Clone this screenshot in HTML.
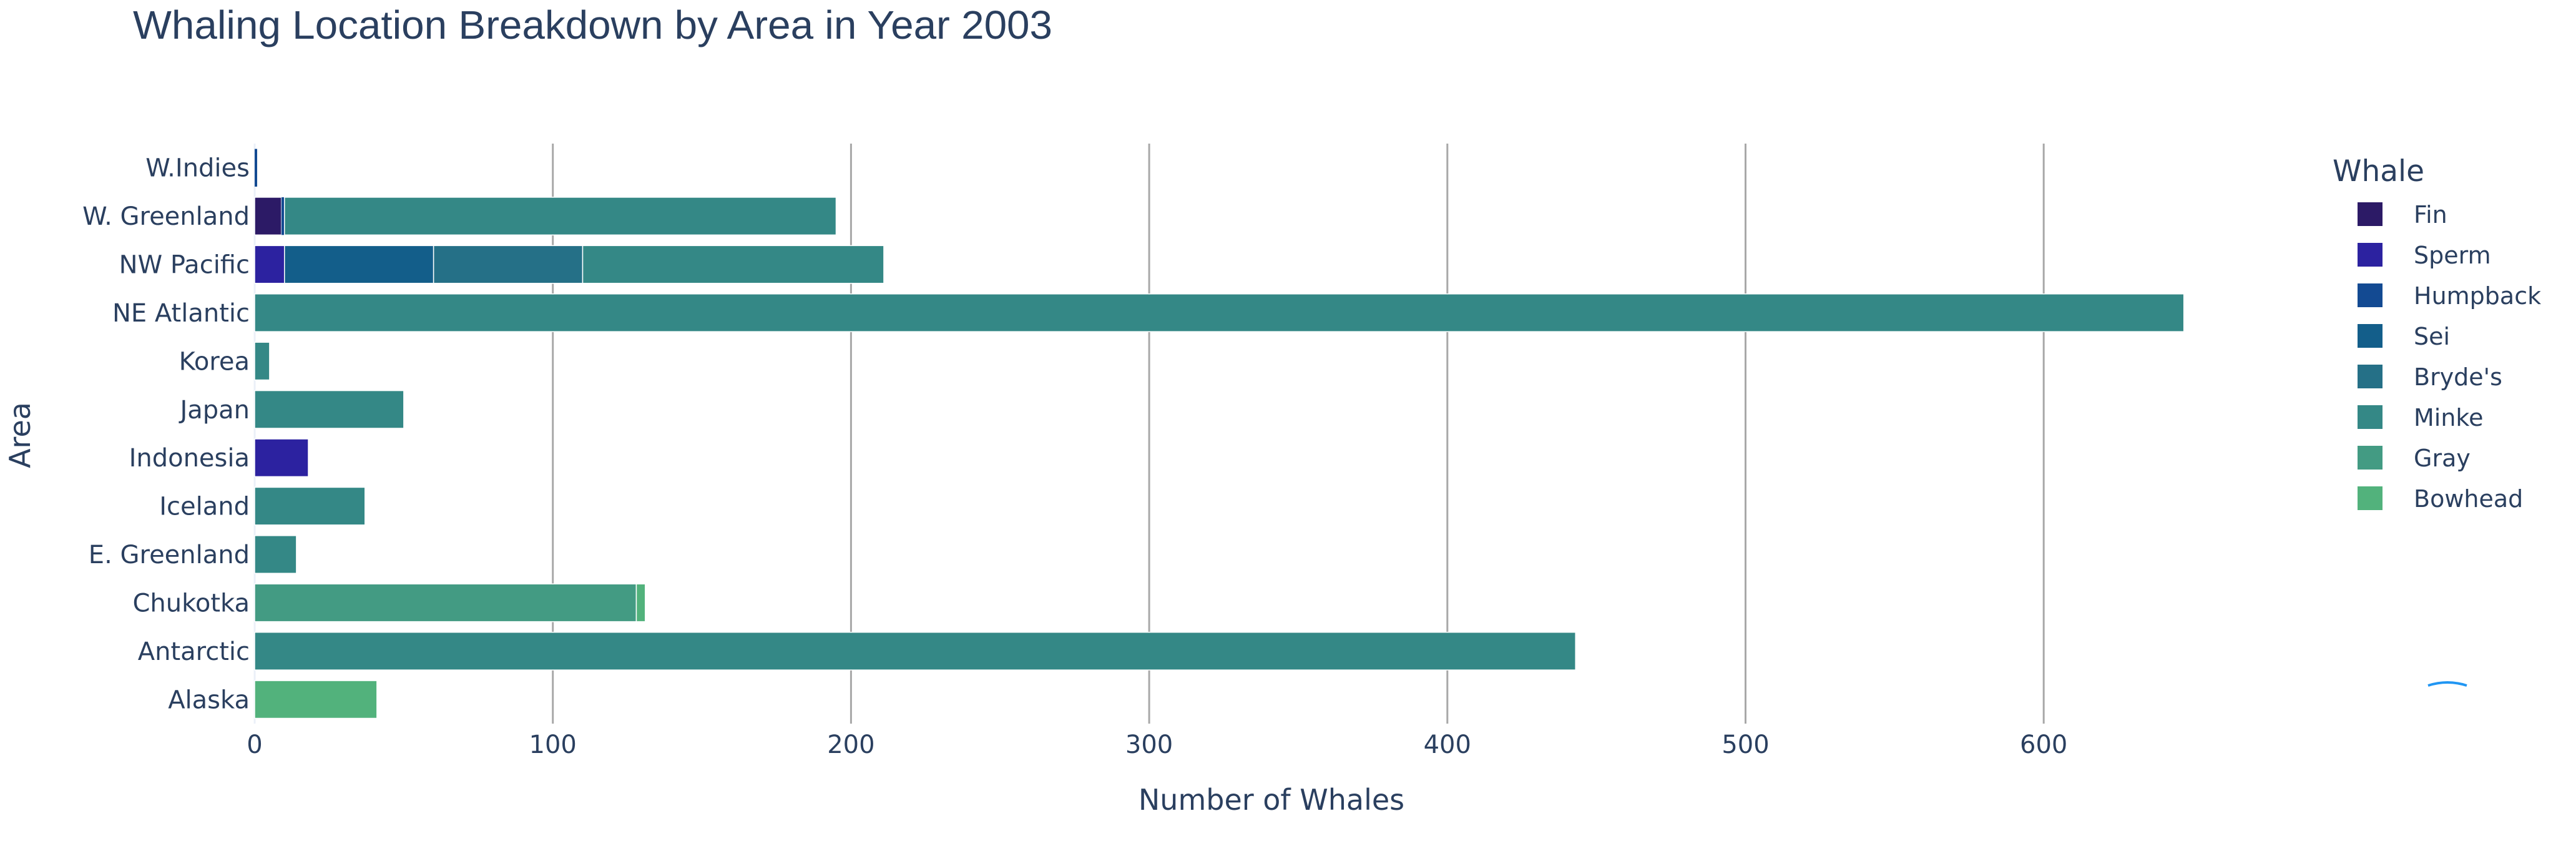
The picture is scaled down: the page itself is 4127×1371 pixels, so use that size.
<!DOCTYPE html>
<html><head><meta charset="utf-8">
<style>
html,body{margin:0;padding:0;background:#fff;}
svg{display:block;}
text{font-family:"DejaVu Sans","Liberation Sans",sans-serif;fill:#2a3f5f;}
</style></head>
<body>
<svg id="chart" width="4127" height="1371" viewBox="0 0 4127 1371" xmlns="http://www.w3.org/2000/svg">
<text x="213" y="62" font-size="64" textLength="1473" lengthAdjust="spacingAndGlyphs" style="font-family:'Liberation Sans',sans-serif">Whaling Location Breakdown by Area in Year 2003</text>
<g id="grid"></g>
<g id="bars"></g>
<g id="yticks"></g>
<g id="xticks"></g>
<text x="2037" y="1297" font-size="46" text-anchor="middle">Number of Whales</text>
<text x="0" y="0" font-size="46" text-anchor="middle" transform="translate(48,697) rotate(-90)">Area</text>
<g id="legend">
<text x="3737" y="290" font-size="47">Whale</text>
</g>
<path d="M3890 1098 Q3921 1088 3952 1098" stroke="#2196f3" stroke-width="4" fill="none"/>
</svg>
<script>
const areas = ["W.Indies","W. Greenland","NW Pacific","NE Atlantic","Korea","Japan","Indonesia","Iceland","E. Greenland","Chukotka","Antarctic","Alaska"];
const species = ["Fin","Sperm","Humpback","Sei","Bryde's","Minke","Gray","Bowhead"];
const colors = ["#2c1a66","#2c22a0","#134a92","#135e8a","#257087","#348886","#439b83","#52b27c"];
const finVals      = [0,9,0,0,0,0,0,0,0,0,0,0];
const spermVals    = [0,0,10,0,0,0,18,0,0,0,0,0];
const humpbackVals = [0.5,1,0,0,0,0,0,0,0,0,0,0];
const seiVals      = [0,0,50,0,0,0,0,0,0,0,0,0];
const brydesVals   = [0,0,50,0,0,0,0,0,0,0,0,0];
const minkeVals    = [0,185,101,647,5,50,0,37,14,0,443,0];
const grayVals     = [0,0,0,0,0,0,0,0,0,128,0,0];
const bowheadVals  = [0,0,0,0,0,0,0,0,0,3,0,41];
const xTicks = [0,100,200,300,400,500,600];

const series = [finVals,spermVals,humpbackVals,seiVals,brydesVals,minkeVals,grayVals,bowheadVals];
const NS="http://www.w3.org/2000/svg";
const X0=408, XS=4.777, TOP=230, BOT=1159;
const band=(BOT-TOP)/areas.length;
function xs(v){return X0+v*XS;}
function yc(i){return TOP+band*(i+0.5);}
function mk(tag,attrs,parent){const e=document.createElementNS(NS,tag);for(const k in attrs)e.setAttribute(k,attrs[k]);parent.appendChild(e);return e;}

const grid=document.getElementById('grid');
xTicks.forEach(t=>{
  if(t===0) return;
  const l=mk('line',{x1:xs(t),x2:xs(t),y1:TOP,y2:BOT,stroke:'#a8a8a8','stroke-width':3},grid);
  
  
});
mk('line',{x1:X0,x2:X0,y1:TOP,y2:BOT,stroke:'#ebf0f8','stroke-width':3},grid);
const xt=document.getElementById('xticks');
xTicks.forEach(t=>{
  const tx=mk('text',{x:xs(t),y:1206,'font-size':40,'text-anchor':'middle'},xt);
  tx.textContent=t;
  
  
});
const yt=document.getElementById('yticks');
areas.forEach((a,i)=>{
  const tx=mk('text',{x:400,y:yc(i)+14,'font-size':40,'text-anchor':'end'},yt);
  tx.textContent=a;
  
  
});
const bars=document.getElementById('bars');
const bh=band*0.78;
areas.forEach((a,i)=>{
  let cum=0;
  series.forEach((s,j)=>{
    const v=s[i]; if(!v) return;
    const w=v*XS;
    const attrs={x:xs(cum),y:yc(i)-bh/2,width:Math.max(w,4),height:bh,fill:colors[j]};
    if(w>6){attrs.stroke='#fff';attrs['stroke-width']=1.5;}
    const r=mk('rect',attrs,bars);
    
    
    cum+=v;
  });
});
const lg=document.getElementById('legend');
species.forEach((s,j)=>{
  const y=343+j*65;
  const r=mk('rect',{x:3777,y:y-19,width:40,height:38,fill:colors[j]},lg);
  
  
  const t=mk('text',{x:3867,y:y+14,'font-size':38},lg);
  t.textContent=s;
  
  
});
</script>
</body></html>
